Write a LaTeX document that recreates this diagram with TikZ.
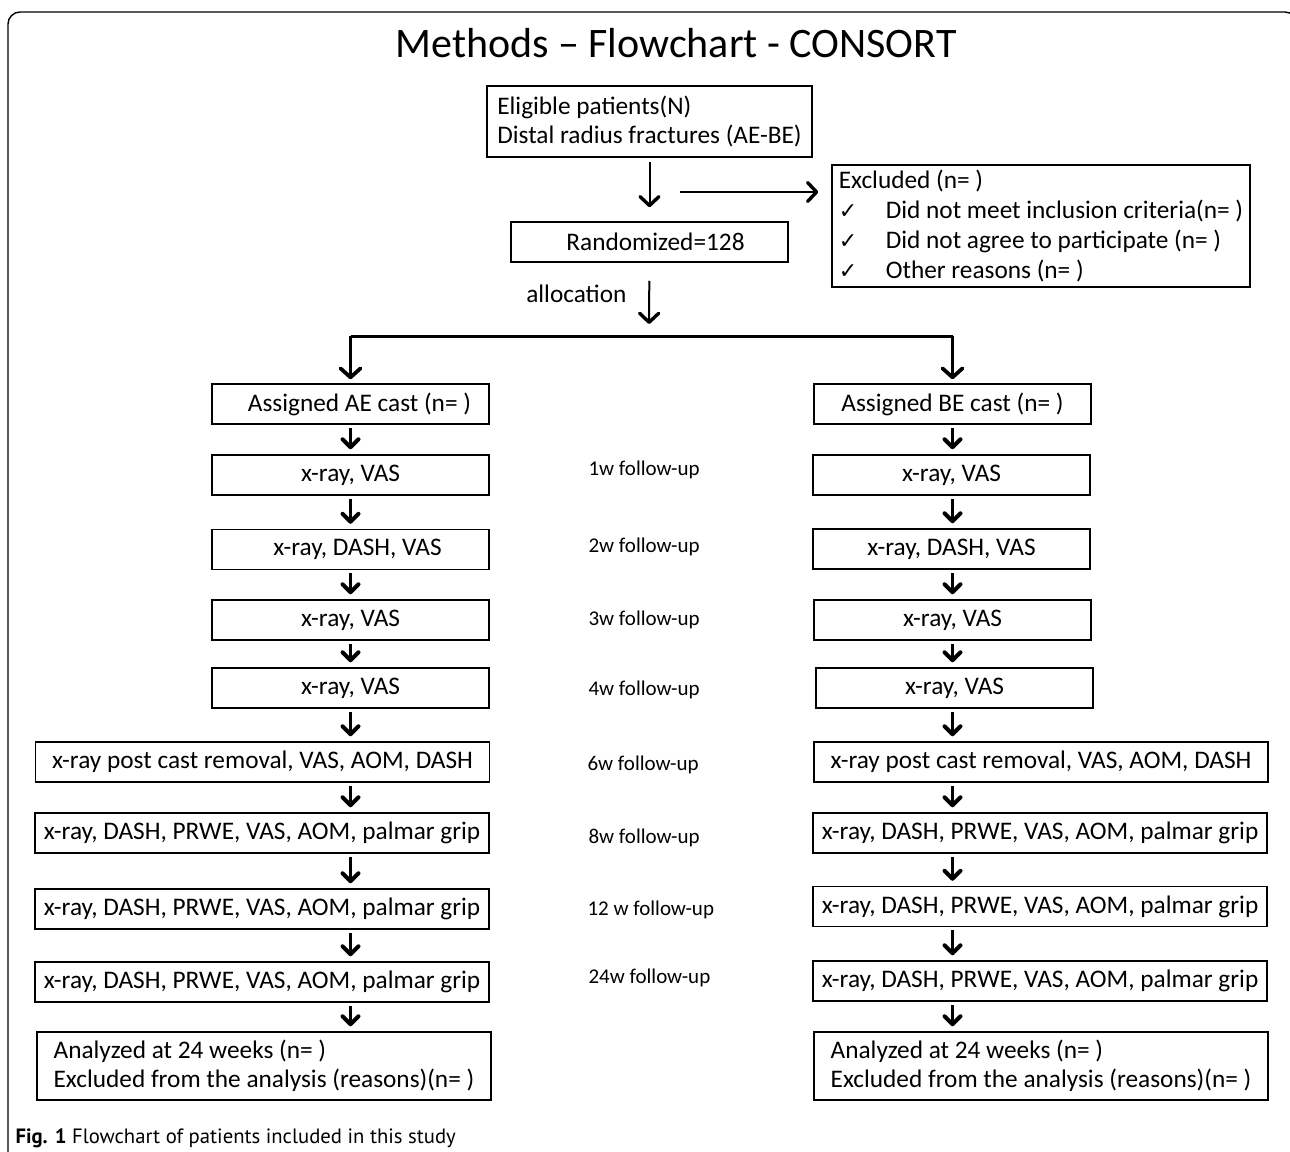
\documentclass[tikz,border=0pt]{standalone}
\usepackage{fontspec}
\setmainfont{Carlito}
\newfontfamily\capfont{PT Sans}
\newfontfamily\chkfont{DejaVu Sans}
\usetikzlibrary{arrows.meta}
\tikzset{
  boxAll/.style={draw, line width=1.5pt, font=\fontsize{25.3}{29}\selectfont, inner sep=0pt, align=center},
  boxS/.style={minimum width=277pt, minimum height=40pt},
  boxW/.style={minimum width=454pt, minimum height=40pt},
  boxL/.style={minimum width=454pt, minimum height=68pt, align=left},
  arrS/.style={line width=2.8pt, -{Straight Barb[length=8pt,width=16pt,line width=4pt,round]}, shorten >=5pt, shorten <=3pt},
  arrB/.style={line width=2pt, -{Straight Barb[length=9pt,width=19pt,line width=3.4pt,round]}},
  fup/.style={anchor=west, font=\fontsize{21}{25}\selectfont}
}
\newcommand{\chk}{\makebox[47pt][l]{\chkfont\fontsize{22}{30}\selectfont ✓}}

\begin{document}
\begin{tikzpicture}[x=1pt, y=-1pt]
  \useasboundingbox (0,0) rectangle (1290,1151);
  \draw[line width=1.4pt, rounded corners=12pt] (8,1160) -- (8,12) -- (1297,12) -- (1297,1160);

  \node[font=\fontsize{42}{48}\selectfont] (title) at (676,43) {Methods -- Flowchart - CONSORT};

  % top part
  \node[boxAll, minimum width=325pt, minimum height=71pt, align=left] (elig) at (649.5,121.5)
    {Eligible patients(N)\\Distal radius fractures (AE-BE)};
  \node[boxAll, boxS] (rand) at (649.5,242) {\hspace{12pt}Randomized=128};
  \node[boxAll, minimum width=418pt, minimum height=122pt, align=left,
    font=\fontsize{25.3}{30}\selectfont] (excl) at (1041,226)
    {Excluded (n= )\\
     \chk Did not meet inclusion criteria(n= )\\
     \chk Did not agree to participate (n= )\\
     \chk Other reasons (n= )};
  \node[font=\fontsize{25.3}{29}\selectfont, anchor=east] (alloc) at (630,294) {allocation};

  \coordinate (exStart) at (680,192);
  \coordinate (split) at (649,336);

  % left arm
  \node[boxAll, boxS] (aeCast) at (350.5,404) {\hspace{18pt}Assigned AE cast (n= )};
  \node[boxAll, boxS] (l1) at (350.5,475) {x-ray, VAS};
  \node[boxAll, boxS] (l2) at (350.5,549.5) {\hspace{14pt}x-ray, DASH, VAS};
  \node[boxAll, boxS] (l3) at (350.5,620) {x-ray, VAS};
  \node[boxAll, boxS] (l4) at (350.5,688) {x-ray, VAS};
  \node[boxAll, boxW] (l6) at (262.5,762) {x-ray post cast removal, VAS, AOM, DASH};
  \node[boxAll, boxW] (l8) at (262,833) {x-ray, DASH, PRWE, VAS, AOM, palmar grip};
  \node[boxAll, boxW] (l12) at (262,909) {x-ray, DASH, PRWE, VAS, AOM, palmar grip};
  \node[boxAll, boxW] (l24) at (262,982) {x-ray, DASH, PRWE, VAS, AOM, palmar grip};
  \node[boxAll, boxL] (anL) at (264,1066) {Analyzed at 24 weeks (n= )\\Excluded from the analysis (reasons)(n= )};

  % right arm
  \node[boxAll, boxS] (beCast) at (952.5,404) {Assigned BE cast (n= )};
  \node[boxAll, boxS] (r1) at (951.5,475) {x-ray, VAS};
  \node[boxAll, boxS] (r2) at (951.5,549) {x-ray, DASH, VAS};
  \node[boxAll, boxS] (r3) at (952.5,620) {x-ray, VAS};
  \node[boxAll, boxS] (r4) at (954.5,688) {x-ray, VAS};
  \node[boxAll, boxW] (r6) at (1041,762) {x-ray post cast removal, VAS, AOM, DASH};
  \node[boxAll, boxW] (r8) at (1040,833) {x-ray, DASH, PRWE, VAS, AOM, palmar grip};
  \node[boxAll, boxW] (r12) at (1040,906.5) {x-ray, DASH, PRWE, VAS, AOM, palmar grip};
  \node[boxAll, boxW] (r24) at (1040,981) {x-ray, DASH, PRWE, VAS, AOM, palmar grip};
  \node[boxAll, boxL] (anR) at (1041,1066) {Analyzed at 24 weeks (n= )\\Excluded from the analysis (reasons)(n= )};

  % follow-up labels
  \node[fup] (fu1) at (585,470) {1w follow-up};
  \node[fup] (fu2) at (585,547) {2w follow-up};
  \node[fup] (fu3) at (585,620) {3w follow-up};
  \node[fup] (fu4) at (585,690) {4w follow-up};
  \node[fup] (fu6) at (584,765) {6w follow-up};
  \node[fup] (fu8) at (585,838) {8w follow-up};
  \node[fup] (fu12) at (584,910) {12 w follow-up};
  \node[fup] (fu24) at (585,978) {24w follow-up};

  \node[anchor=base west, font=\capfont\fontsize{20.7}{24}\selectfont] (caption) at (12,1143)
    {\textbf{Fig. 1} Flowchart of patients included in this study};

  % connectors
  \draw[arrB, shorten <=4pt, shorten >=14pt] (elig) -- (rand);
  \draw[arrB, shorten >=13pt] (exStart) -- (exStart -| excl.west);
  \draw[arrB, shorten <=18pt, shorten >=12pt] (rand) -- (split);
  \draw[line width=3pt] (split -| aeCast) -- (split -| beCast);
  \draw[line width=3pt, -{Straight Barb[length=9pt,width=20pt,line width=3.8pt,round]}, shorten >=4pt] (split -| aeCast) -- (aeCast);
  \draw[line width=3pt, -{Straight Barb[length=9pt,width=20pt,line width=3.8pt,round]}, shorten >=4pt] (split -| beCast) -- (beCast);

  \path[arrS]
    (aeCast) edge (l1)
    (l1) edge (l2)
    (l2) edge (l3)
    (l3) edge (l4)
    (l4) edge (l6.north -| l4)
    (l6.south -| l4) edge (l8.north -| l4)
    (l8.south -| l4) edge (l12.north -| l4)
    (l12.south -| l4) edge (l24.north -| l4)
    (l24.south -| l4) edge (anL.north -| l4);

  \path[arrS]
    (beCast) edge (beCast |- r1.north)
    (beCast |- r1.south) edge (beCast |- r2.north)
    (beCast |- r2.south) edge (beCast |- r3.north)
    (beCast |- r3.south) edge (beCast |- r4.north)
    (beCast |- r4.south) edge (beCast |- r6.north)
    (beCast |- r6.south) edge (beCast |- r8.north)
    (beCast |- r8.south) edge (beCast |- r12.north)
    (beCast |- r12.south) edge (beCast |- r24.north)
    (beCast |- r24.south) edge (beCast |- anR.north);
\end{tikzpicture}
\end{document}
